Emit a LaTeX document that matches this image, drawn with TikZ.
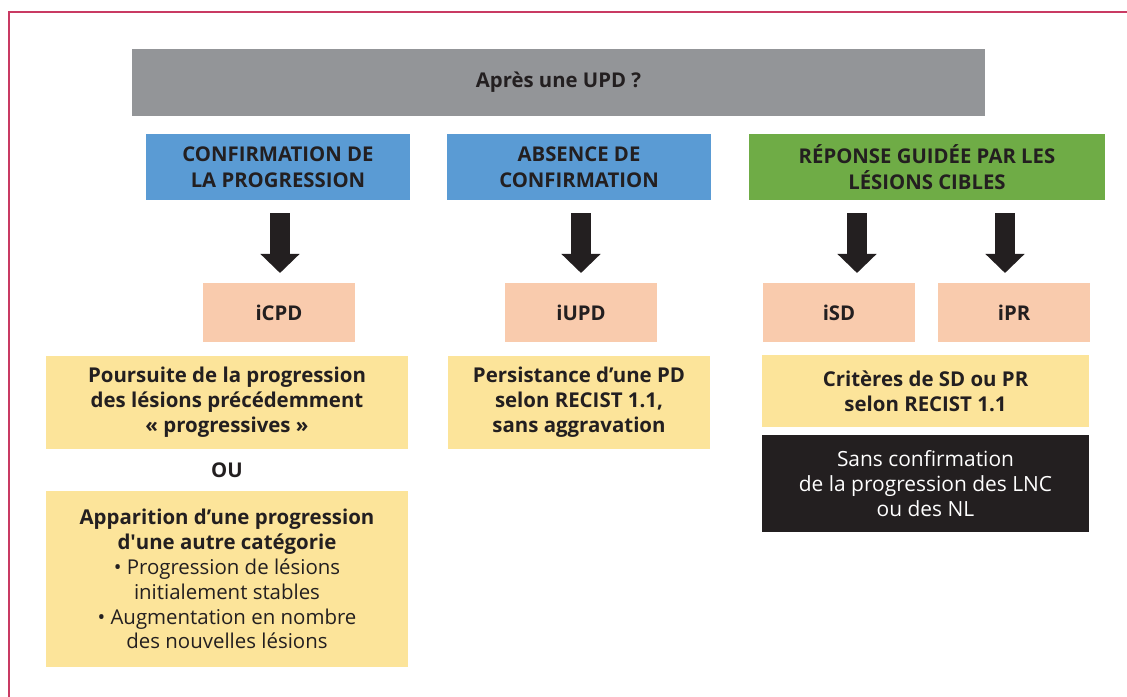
\documentclass[tikz,border=0pt]{standalone}
\usepackage{fontspec}
\setmainfont{Open Sans}
\usetikzlibrary{arrows.meta,calc}
\definecolor{frame}{HTML}{C93A63}
\definecolor{hdgray}{HTML}{939598}
\definecolor{hdblue}{HTML}{5A9BD4}
\definecolor{hdgreen}{HTML}{6FAC46}
\definecolor{peach}{HTML}{F9CBAD}
\definecolor{pyellow}{HTML}{FCE49A}
\definecolor{ink}{HTML}{231F20}
\newcommand{\straightq}{\XeTeXglyph\XeTeXcharglyph"27\relax}
\tikzset{
  box/.style={inner sep=0pt, outer sep=0pt, align=center, text=ink, font=\fontsize{20.4}{26}\selectfont\bfseries},
  body/.style={box, font=\fontsize{20.5}{25}\selectfont\bfseries},
  bigarrow/.style={draw=ink, line width=20bp, -{Triangle[width=38bp,length=19bp]}},
}
\begin{document}
\begin{tikzpicture}[x=1bp,y=-1bp]
\useasboundingbox (0,0) rectangle (1127,697);
\fill[white] (0,0) rectangle (1127,697);
\draw[frame, line width=2bp] (9,710) -- (9,12) -- (1140,12);
% header
\node[box, fill=hdgray, minimum width=853bp, minimum height=67bp] (top) at (558.5,82.5) {Après une UPD ?};
\node[box, fill=hdblue, minimum width=264bp, minimum height=66bp] (b1) at (278,167) {CONFIRMATION DE\\LA PROGRESSION};
\node[box, fill=hdblue, minimum width=264bp, minimum height=66bp] (b2) at (579,167) {ABSENCE DE\\CONFIRMATION};
\node[box, fill=hdgreen, minimum width=356bp, minimum height=66bp] (g) at (927,167) {RÉPONSE GUIDÉE PAR LES\\LÉSIONS CIBLES};
% peach
\node[box, fill=peach, minimum width=152bp, minimum height=59bp] (icpd) at (279,312.5) {iCPD};
\node[box, fill=peach, minimum width=152bp, minimum height=59bp] (iupd) at (581,312.5) {iUPD};
\node[box, fill=peach, minimum width=152bp, minimum height=59bp] (isd) at (839,312.5) {iSD};
\node[box, fill=peach, minimum width=152bp, minimum height=59bp] (ipr) at (1014,312.5) {iPR};
% yellow
\node[body, fill=pyellow, minimum width=362bp, minimum height=93bp] (y1) at (227,402.5) {Poursuite de la progression\\des lésions précédemment\\« progressives »};
\node[body, fill=pyellow, minimum width=262bp, minimum height=93bp] (y2) at (579,402.5) {Persistance d’une PD\\selon RECIST 1.1,\\sans aggravation};
\node[body, fill=pyellow, minimum width=327bp, minimum height=72bp] (y3) at (925.5,391) {Critères de SD ou PR\\selon RECIST 1.1};
\node[body, fill=ink, text=white, font=\fontsize{21}{25}\selectfont, minimum width=327bp, minimum height=97bp] (blk) at (925.5,483.5) {Sans confirmation\\de la progression des LNC\\ou des NL};
\node[box] (ou) at (227,470) {OU};
\node[body, fill=pyellow, minimum width=362bp, minimum height=176bp] (y4) at (227,579) {Apparition d’une progression\\d\straightq une autre catégorie\\\mdseries • Progression de lésions\\\mdseries initialement stables\\\mdseries • Augmentation en nombre\\\mdseries des nouvelles lésions};
% arrows
\draw[bigarrow, shorten <=13bp, shorten >=10bp] ([xshift=1bp]icpd.north |- b1.south) -- ([xshift=1bp]icpd.north);
\draw[bigarrow, shorten <=13bp, shorten >=10bp] (iupd.north |- b2.south) -- (iupd.north);
\draw[bigarrow, shorten <=13bp, shorten >=10bp] ([xshift=18bp]isd.north |- g.south) -- ([xshift=18bp]isd.north);
\draw[bigarrow, shorten <=13bp, shorten >=10bp] ([xshift=-9bp]ipr.north |- g.south) -- ([xshift=-9bp]ipr.north);
\end{tikzpicture}
\end{document}
